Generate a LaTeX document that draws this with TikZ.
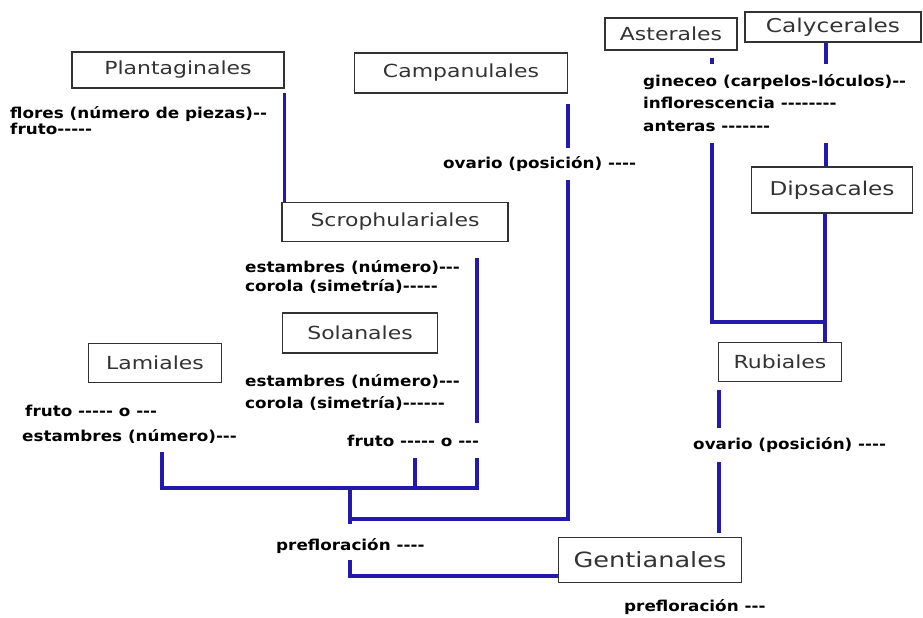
\documentclass[tikz,border=0pt]{standalone}
\usepackage{fontspec}
\newfontfamily\ordenfont[FakeStretch=1.22]{DejaVu Sans}
\newfontfamily\carfont[FakeStretch=1.12]{DejaVu Sans Bold}
\definecolor{azul}{RGB}{35,25,170}
\definecolor{marco}{RGB}{50,50,50}
\tikzset{
  orden/.style={draw=marco, line width=1.6pt, text=black!80, inner sep=0pt,
    font=\ordenfont\fontsize{18}{20}\selectfont},
  caracter/.style={anchor=west, inner sep=0pt,
    font=\carfont\fontsize{15}{17}\selectfont},
  rama/.style={draw=azul, line width=3.2pt}
}
\begin{document}
\begin{tikzpicture}[x=1pt,y=-1pt]
\useasboundingbox (0,0) rectangle (923,618);
% ordenes
\node[orden, minimum width=212pt, minimum height=36pt] (plan) at (178,70) {Plantaginales};
\node[orden, minimum width=213pt, minimum height=40pt] (camp) at (461,73) {Campanulales};
\node[orden, minimum width=132pt, minimum height=32pt] (aste) at (671,34) {Asterales};
\node[orden, minimum width=176pt, minimum height=30pt,
  font=\ordenfont\fontsize{19}{20}\selectfont] (caly) at (833,27) {Calycerales};
\node[orden, minimum width=161pt, minimum height=46pt,
  font=\ordenfont\fontsize{19}{20}\selectfont] (dips) at (832,190) {Dipsacales};
\node[orden, minimum width=226pt, minimum height=39pt] (scro) at (395,222) {Scrophulariales};
\node[orden, minimum width=155pt, minimum height=40pt] (sola) at (360,333) {Solanales};
\node[orden, minimum width=133pt, minimum height=39pt] (lami) at (155,363) {Lamiales};
\node[orden, minimum width=123pt, minimum height=39pt] (rubi) at (780,362) {Rubiales};
\node[orden, minimum width=183pt, minimum height=45pt,
  font=\ordenfont\fontsize{21}{22}\selectfont] (gent) at (650,560) {Gentianales};
% caracteres
\node[caracter] (planA) at (10,114) {flores (número de piezas)--};
\node[caracter] (planB) at (10,129) {fruto-----};
\node[caracter] (campA) at (443,164) {ovario (posición) ----};
\node[caracter] (asteA) at (643,82) {gineceo (carpelos-lóculos)--};
\node[caracter] (asteB) at (643,103) {inflorescencia --------};
\node[caracter] (asteC) at (643,126) {anteras -------};
\node[caracter] (scroA) at (245,267) {estambres (número)---};
\node[caracter] (scroB) at (245,286) {corola (simetría)-----};
\node[caracter] (solaA) at (245,381) {estambres (número)---};
\node[caracter] (solaB) at (245,403) {corola (simetría)------};
\node[caracter] (fruA) at (347,441) {fruto ----- o ---};
\node[caracter] (lamiA) at (25,411) {fruto ----- o ---};
\node[caracter] (lamiB) at (22,436) {estambres (número)---};
\node[caracter] (gentA) at (276,546) {prefloración ----};
\node[caracter] (rubiA) at (693,445) {ovario (posición) ----};
\node[caracter] (gentB) at (624,607) {prefloración ---};
% puntos de union
\coordinate (scroL) at (477,258);
\coordinate (lamiL) at (162,452);
\coordinate (solaL) at (415,458);
\coordinate (scroM) at (477,458);
\coordinate (fruJ) at (350,488);
\coordinate (campJ) at (350,519);
\coordinate (campL) at (568,180);
\coordinate (gentJ) at (350,560);
\coordinate (gentL) at (350,576);
\coordinate (rubiL) at (719,462);
\coordinate (dipsJ) at (825,322);
\coordinate (asteL) at (712,143);
\coordinate (dipsL) at (826,143);
% ramas
\draw[rama] (plan.south east) ++(0,4) -- (plan.south east |- scro.north);
\draw[rama] (scroL) -- ++(0,165);
\draw[rama] (lamiL) |- (scroM |- fruJ) -- (scroM);
\draw[rama] (solaL) -- (solaL |- fruJ);
\draw[rama] (fruJ) -- ++(0,36);
\draw[rama] (campJ) -| (campL);
\draw[rama] (camp.south -| campL) ++(0,10) -- ++(0,44);
\draw[rama] (gentJ) -- (gentL) -- (gentL -| gent.west);
\draw[rama] (rubiL) -- ++(0,71);
\draw[rama] (rubi.south -| rubiL) ++(0,8) -- ++(0,38);
\draw[rama] (rubi.north -| dipsJ) -- (dips.south -| dipsJ);
\draw[rama] (asteL) |- (dipsJ);
\draw[rama] (aste.south -| asteL) ++(0,7) -- ++(0,6);
\draw[rama] (dipsL) -- (dipsL |- dips.north);
\draw[rama] (caly.south -| dipsL) -- ++(0,21);
\end{tikzpicture}
\end{document}
